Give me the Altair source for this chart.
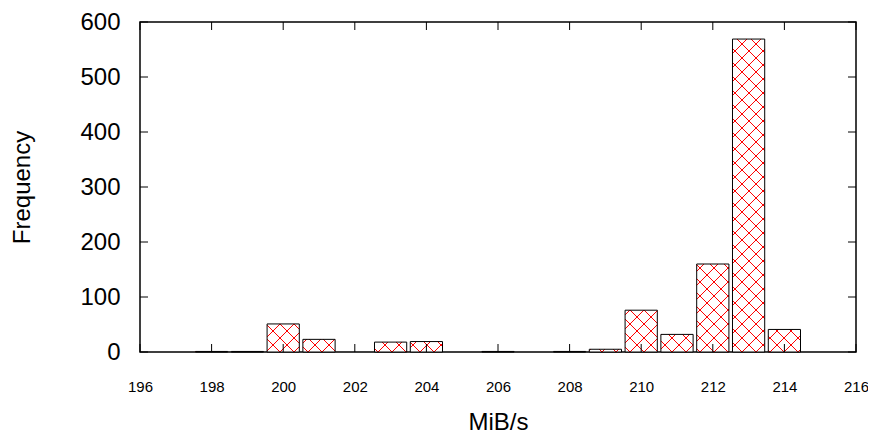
import altair as alt
import pandas as pd
import numpy as np

# ---- data ----
speeds = [198, 199, 200, 201, 203, 204, 206, 208, 209, 210, 211, 212, 213, 214]
counts = [1, 1, 51, 23, 18, 19, 1, 1, 5, 76, 32, 160, 569, 41]
x_ticks = list(range(196, 217, 2))
y_ticks = list(range(0, 601, 100))

# ---- layout / style ----
W, H = 716, 330
XMIN, XMAX = 196, 216
YMIN, YMAX = 0, 600
BOX = 0.9          # bar width in data units
HATCH = 14         # hatch spacing in px
FONT = "Liberation Sans"
TICK = 8

pxx = W / (XMAX - XMIN)
pxy = H / (YMAX - YMIN)

bars = pd.DataFrame({"speed": speeds, "count": counts})

# cross-hatch segments derived from the bars (45 degrees on screen)
rise, fall = [], []
for v, c in zip(speeds, counts):
    xl = (v - BOX / 2 - XMIN) * pxx
    xr = (v + BOX / 2 - XMIN) * pxx
    h = c * pxy
    k0 = int(np.floor((xl - h) / HATCH)) - 1
    k1 = int(np.ceil((xr + h) / HATCH)) + 1
    for k in range(k0, k1 + 1):
        ck = k * HATCH
        X0, X1 = max(ck, xl), min(ck + h, xr)
        if X1 > X0:
            rise.append((X0, X0 - ck, X1, X1 - ck))
        X0, X1 = max(ck - h, xl), min(ck, xr)
        if X1 > X0:
            fall.append((X0, ck - X0, X1, ck - X1))


def to_data(segs, fam):
    df = pd.DataFrame(
        [(a / pxx + XMIN, b / pxy, c2 / pxx + XMIN, d / pxy) for a, b, c2, d in segs],
        columns=["hx0", "hy0", "hx1", "hy1"],
    )
    df["fam"] = fam
    return df


xs = alt.Scale(domain=[XMIN, XMAX], nice=False, zero=False)
ys = alt.Scale(domain=[YMIN, YMAX], nice=False)

xaxis = alt.Axis(
    values=x_ticks, title="MiB/s", grid=False, ticks=False, tickSize=0,
    domain=False, labelFontSize=15, labelPadding=27, labelColor="black",
    labelFont=FONT, titleFont=FONT, titleFontSize=24, titleFontWeight="normal",
    titleColor="black", titlePadding=16, labelFlush=False)
yaxis = alt.Axis(
    values=y_ticks, title="Frequency", grid=False, ticks=False, tickSize=0,
    domain=False, labelFontSize=24, labelPadding=20, labelColor="black",
    labelFont=FONT, titleFont=FONT, titleFontSize=24, titleFontWeight="normal",
    titleColor="black", titlePadding=45)

X = lambda f: alt.X(f, scale=xs, axis=xaxis)
Y = lambda f: alt.Y(f, scale=ys, axis=yaxis)

base = alt.Chart(bars).transform_calculate(
    x0=f"datum.speed - {BOX/2}", x1=f"datum.speed + {BOX/2}"
)

fill = base.mark_bar(fill="white", strokeWidth=0).encode(
    x=X("x0:Q"), x2="x1:Q", y=Y("count:Q"), y2=alt.datum(0))


def hatch_layer(df):
    return alt.Chart(df).mark_rule(strokeWidth=1).encode(
        x=X("hx0:Q"), x2="hx1:Q", y=Y("hy0:Q"), y2="hy1:Q",
        color=alt.value("#ff0000"))


outline = base.mark_bar(fill="white", fillOpacity=0, stroke="black", strokeWidth=1).encode(
    x=X("x0:Q"), x2="x1:Q", y=Y("count:Q"), y2=alt.datum(0))

xt = pd.DataFrame({"v": x_ticks})
yt = pd.DataFrame({"v": y_ticks})
left_t = alt.Chart(yt).mark_rule(strokeWidth=1).encode(
    y=Y("v:Q"), x=alt.value(0), x2=alt.value(TICK), color=alt.value("black"))
right_t = alt.Chart(yt).mark_rule(strokeWidth=1).encode(
    y=Y("v:Q"), x=alt.value(W - TICK), x2=alt.value(W), color=alt.value("black"))
bot_t = alt.Chart(xt).mark_rule(strokeWidth=1).encode(
    x=X("v:Q"), y=alt.value(H), y2=alt.value(H - TICK), color=alt.value("black"))
top_t = alt.Chart(xt).mark_rule(strokeWidth=1).encode(
    x=X("v:Q"), y=alt.value(0), y2=alt.value(TICK), color=alt.value("black"))

chart = alt.layer(
    fill, hatch_layer(to_data(rise, "r")), hatch_layer(to_data(fall, "f")), outline,
    left_t, right_t, bot_t, top_t,
).properties(
    width=W, height=H,
    autosize=alt.AutoSizeParams(type="none"),
    padding={"left": 132, "top": 14, "right": 12, "bottom": 86},
).configure(background="white").configure_view(stroke="black", strokeWidth=1.5)

chart.save("out.html", embed_options={"renderer": "svg", "actions": False})
